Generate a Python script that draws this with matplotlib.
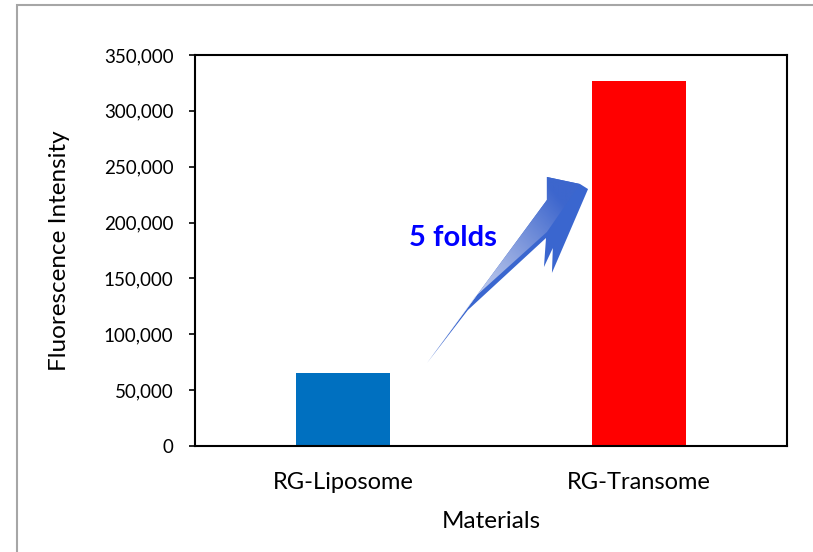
import matplotlib
matplotlib.use('Agg')
import matplotlib.pyplot as plt
import numpy as np
from matplotlib.patches import Polygon, Rectangle
from matplotlib.colors import LinearSegmentedColormap
from matplotlib.ticker import FuncFormatter

plt.rcParams['font.family'] = ['Lato', 'DejaVu Sans']

# data
materials = ['RG-Liposome', 'RG-Transome']
intensity = [65000, 327000]
bar_colors = ['#0070C0', '#FF0000']
y_ticks = [0, 50000, 100000, 150000, 200000, 250000, 300000, 350000]

fig = plt.figure(figsize=(8.13, 5.52), dpi=100)
ax = fig.add_axes([0.2399, 0.192, 0.728, 0.7084])

x = np.arange(len(materials))
ax.bar(x, intensity, width=0.32, color=bar_colors, zorder=2)

ax.set_xlim(-0.5, 1.5)
ax.set_ylim(0, 350000)
ax.set_yticks(y_ticks)
ax.yaxis.set_major_formatter(FuncFormatter(lambda v, p: f'{v:,.0f}'))
ax.set_xticks(x)
ax.set_xticklabels(materials, fontsize=17)
ax.tick_params(axis='x', length=0, pad=19)
ax.tick_params(axis='y', direction='out', length=4.5, width=1.2, pad=11, labelsize=13.5)
for s in ax.spines.values():
    s.set_linewidth(1.5)
    s.set_color('black')

ax.set_xlabel('Materials', fontsize=17.5, labelpad=13)
ax.set_ylabel('Fluorescence Intensity', fontsize=17.5, labelpad=24)

# gradient arrow (annotation shape, in data coords)
outer = [(0.284, 74300), (0.422, 121700), (0.686, 186200), (0.679, 160200),
         (0.709, 177200), (0.706, 154900), (0.828, 230000), (0.801, 234500),
         (0.689, 240800), (0.689, 220200)]
face = [(0.301, 80500), (0.689, 220200), (0.689, 240800), (0.801, 234500),
        (0.689, 191560), (0.446, 133500)]
dark = Polygon(outer, closed=True, facecolor='#3A66CF', edgecolor='none', zorder=3)
ax.add_patch(dark)
face_patch = Polygon(face, closed=True, facecolor='none', edgecolor='none', zorder=4)
ax.add_patch(face_patch)
x0, x1, y0, y1 = 0.27, 0.84, 70000, 245000
gx, gy = np.meshgrid(np.linspace(x0, x1, 200), np.linspace(y0, y1, 200))
# projection along tail->head direction (normalised by axes scale)
u = (gx - 0.284) / 0.52 + (gy - 74300) / 166000
u = np.clip(u / 1.75, 0, 1)
cmap = LinearSegmentedColormap.from_list(
    'g', [(0, '#FFFFFF'), (0.3, '#D5DCF2'), (0.65, '#8FA5E0'), (1, '#3D66CD')])
im = ax.imshow(u, extent=[x0, x1, y0, y1], origin='lower', cmap=cmap,
               aspect='auto', zorder=4, interpolation='bilinear', vmin=0, vmax=1)
im.set_clip_path(face_patch)
ax.set_xlim(-0.5, 1.5)
ax.set_ylim(0, 350000)

ax.text(0.37, 186000, '5 folds', color='#0000FF', fontsize=21,
        fontweight='bold', ha='center', va='center', zorder=5)

# outer chart border
fig.patches.append(Rectangle((17 / 813, -0.01), 1.0, 1.01 - 5 / 552,
                             transform=fig.transFigure, fill=False,
                             edgecolor='#A6A6A6', linewidth=1.5))

fig.savefig('out.png', dpi=100)
